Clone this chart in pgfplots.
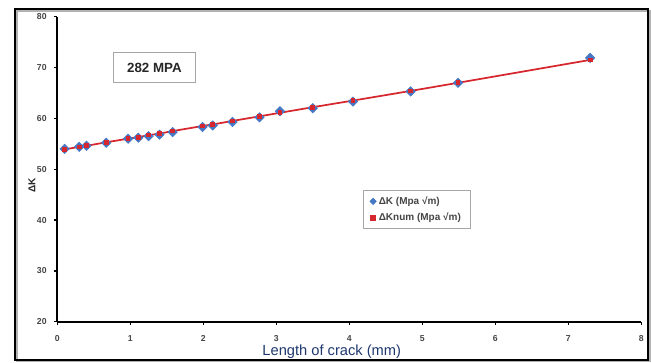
\documentclass[border=0pt]{standalone}
\usepackage{fontspec}
\setmainfont{Liberation Sans}
\usepackage{pgfplots}
\pgfplotsset{compat=1.18}
\definecolor{kblue}{RGB}{68,120,196}
\definecolor{kred}{RGB}{214,38,46}
\definecolor{navy}{RGB}{31,56,110}
\definecolor{tickgray}{RGB}{70,70,70}
\begin{document}
\begin{tikzpicture}
\useasboundingbox (-42.975pt,-30.225pt) rectangle (445.275pt,241.275pt);
\draw[gray!60, line width=1.5pt] (-30.5pt,-29.6pt) rectangle (444.2pt,233.3pt);
\draw[black, line width=1.5pt] (-31.7pt,-28.7pt) rectangle (443pt,234.5pt);
\begin{axis}[
  scale only axis, width=438pt, height=228.75pt,
  xmin=0, xmax=8, ymin=20, ymax=80,
  axis lines=left,
  axis line style={-, line width=1.3pt, black},
  xtick={0,1,...,8}, ytick={20,30,...,80},
  tick align=outside, major tick length=2.5pt,
  tick style={black, line width=1pt},
  /pgf/number format/assume math mode=true,
  ticklabel style={font=\fontsize{6.5}{7.5}\selectfont\bfseries, text=tickgray},
  xticklabel style={yshift=-4pt},
  yticklabel style={xshift=-2pt},
  xlabel={Length of crack (mm)},
  xlabel style={at={(axis description cs:0.470,-0.0993)}, anchor=center, font=\fontsize{11}{13}\selectfont, text=navy},
  ylabel={ΔK},
  ylabel style={at={(axis description cs:-0.0433,0.448)}, anchor=center, font=\fontsize{7.5}{9}\selectfont\bfseries, text=black!85},
  legend style={at={(axis description cs:0.5235,0.4318)}, anchor=north west, draw=gray!70, line width=0.6pt,
    font=\fontsize{7.5}{9}\selectfont\bfseries, text=tickgray, inner xsep=5pt, inner ysep=2.5pt, row sep=1pt},
  legend cell align=left,
  clip=false,
]
\addplot[only marks, mark=square*, mark options={rotate=45}, mark size=2.5pt, color=kblue, forget plot] coordinates {
(0.1,54.0) (0.3,54.4) (0.4,54.6) (0.67,55.2) (0.97,56.0) (1.11,56.2) (1.25,56.5) (1.4,56.8) (1.58,57.3) (1.99,58.3) (2.13,58.6) (2.4,59.3) (2.77,60.2) (3.05,61.4) (3.5,62.0) (4.05,63.3) (4.84,65.3) (5.49,67.0) (7.3,71.9)};
\addplot[kred, line width=1.3pt, mark=square*, mark size=1.1pt, forget plot] coordinates {
(0.1,53.9) (0.3,54.4) (0.4,54.6) (0.67,55.3) (0.97,56.0) (1.11,56.3) (1.25,56.7) (1.4,57.0) (1.58,57.5) (1.99,58.5) (2.13,58.8) (2.4,59.5) (2.77,60.4) (3.05,61.1) (3.5,62.2) (4.05,63.5) (4.84,65.4) (5.49,67.0) (7.3,71.5)};
\addlegendimage{only marks, mark=square*, mark options={rotate=45}, mark size=1.6pt, color=kblue}
\addlegendentry{ΔK (Mpa √m)}
\addlegendimage{only marks, mark=square*, mark size=1.8pt, color=kred}
\addlegendentry{ΔKnum (Mpa √m)}
\node[draw=gray!70, line width=0.8pt, fill=white, minimum width=62pt, minimum height=23pt,
  font=\fontsize{10}{12}\selectfont\bfseries, text=black!85] at (axis cs:1.33,70) {282 MPA};
\end{axis}
\end{tikzpicture}
\end{document}
